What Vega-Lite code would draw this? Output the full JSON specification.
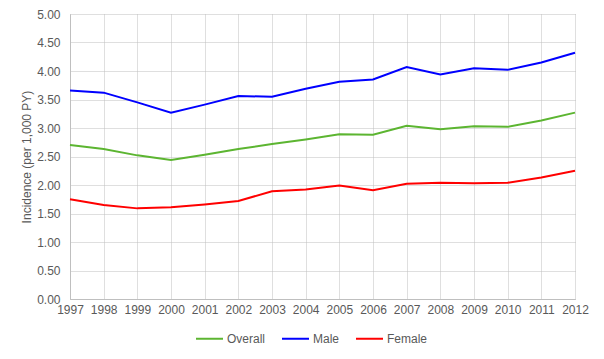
{
  "$schema": "https://vega.github.io/schema/vega-lite/v6.json",
  "width": 505,
  "height": 285,
  "autosize": {"type": "none"},
  "padding": {"left": 70, "top": 14, "right": 29, "bottom": 60},
  "background": "white",
  "config": {
    "font": "Liberation Sans",
    "view": {"stroke": null},
    "axis": {"labelFont": "Liberation Sans", "titleFont": "Liberation Sans", "labelColor": "#595959", "titleColor": "#595959", "labelFontSize": 12, "grid": true, "gridColor": "#bfbfbf", "gridDash": [1, 1], "ticks": false, "domainColor": "#bfbfbf"},
    "legend": {"labelFont": "Liberation Sans", "labelColor": "#595959", "labelFontSize": 12}
  },
  "data": {"values": [
    {"year": 1997, "series": "Overall", "v": 2.70}, {"year": 1998, "series": "Overall", "v": 2.63}, {"year": 1999, "series": "Overall", "v": 2.52}, {"year": 2000, "series": "Overall", "v": 2.44},
    {"year": 2001, "series": "Overall", "v": 2.53}, {"year": 2002, "series": "Overall", "v": 2.63}, {"year": 2003, "series": "Overall", "v": 2.72}, {"year": 2004, "series": "Overall", "v": 2.80},
    {"year": 2005, "series": "Overall", "v": 2.89}, {"year": 2006, "series": "Overall", "v": 2.88}, {"year": 2007, "series": "Overall", "v": 3.04}, {"year": 2008, "series": "Overall", "v": 2.98},
    {"year": 2009, "series": "Overall", "v": 3.03}, {"year": 2010, "series": "Overall", "v": 3.02}, {"year": 2011, "series": "Overall", "v": 3.13}, {"year": 2012, "series": "Overall", "v": 3.27},
    {"year": 1997, "series": "Male", "v": 3.66}, {"year": 1998, "series": "Male", "v": 3.62}, {"year": 1999, "series": "Male", "v": 3.45}, {"year": 2000, "series": "Male", "v": 3.27},
    {"year": 2001, "series": "Male", "v": 3.41}, {"year": 2002, "series": "Male", "v": 3.56}, {"year": 2003, "series": "Male", "v": 3.55}, {"year": 2004, "series": "Male", "v": 3.69},
    {"year": 2005, "series": "Male", "v": 3.81}, {"year": 2006, "series": "Male", "v": 3.85}, {"year": 2007, "series": "Male", "v": 4.07}, {"year": 2008, "series": "Male", "v": 3.94},
    {"year": 2009, "series": "Male", "v": 4.05}, {"year": 2010, "series": "Male", "v": 4.02}, {"year": 2011, "series": "Male", "v": 4.15}, {"year": 2012, "series": "Male", "v": 4.32},
    {"year": 1997, "series": "Female", "v": 1.75}, {"year": 1998, "series": "Female", "v": 1.65}, {"year": 1999, "series": "Female", "v": 1.59}, {"year": 2000, "series": "Female", "v": 1.61},
    {"year": 2001, "series": "Female", "v": 1.66}, {"year": 2002, "series": "Female", "v": 1.72}, {"year": 2003, "series": "Female", "v": 1.89}, {"year": 2004, "series": "Female", "v": 1.92},
    {"year": 2005, "series": "Female", "v": 1.99}, {"year": 2006, "series": "Female", "v": 1.91}, {"year": 2007, "series": "Female", "v": 2.02}, {"year": 2008, "series": "Female", "v": 2.04},
    {"year": 2009, "series": "Female", "v": 2.03}, {"year": 2010, "series": "Female", "v": 2.04}, {"year": 2011, "series": "Female", "v": 2.13}, {"year": 2012, "series": "Female", "v": 2.25}
  ]},
  "mark": {"type": "line", "strokeWidth": 2},
  "encoding": {
    "x": {"field": "year", "type": "ordinal", "scale": {"type": "point", "padding": 0}, "axis": {"title": null, "labelAngle": 0, "labelPadding": 5, "domainColor": "#bfbfbf"}},
    "y": {"field": "v", "type": "quantitative", "scale": {"domain": [0, 5]}, "axis": {"title": "Incidence (per 1,000 PY)", "titleFontWeight": "normal", "titleFontSize": 12, "titlePadding": 3, "values": [0, 0.5, 1, 1.5, 2, 2.5, 3, 3.5, 4, 4.5, 5], "format": ".2f", "labelPadding": 10}},
    "color": {"field": "series", "type": "nominal", "scale": {"domain": ["Overall", "Male", "Female"], "range": ["#5cb531", "#0000ff", "#ff0000"]},
      "legend": {"title": null, "orient": "none", "legendX": 125, "legendY": 310, "direction": "horizontal", "symbolType": "stroke", "symbolSize": 729, "symbolStrokeWidth": 2, "columnPadding": 12, "labelOffset": 3}}
  }
}
